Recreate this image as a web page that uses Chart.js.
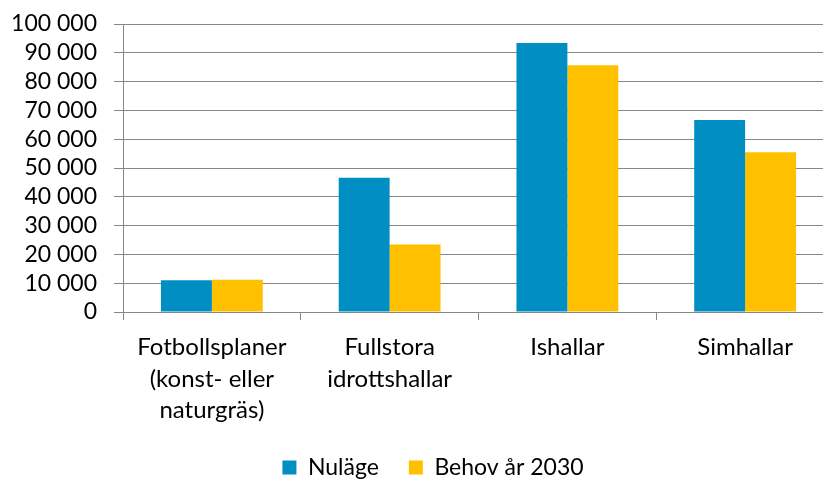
<!DOCTYPE html>
<html><head><meta charset="utf-8">
<script src="https://cdn.jsdelivr.net/npm/chart.js@4"></script>
<style>
html,body{margin:0;padding:0;overflow:hidden;background:#fff;width:823px;height:479px}
#wrap{width:866px;height:490px;position:relative}
</style>
</head><body><div id="wrap"><canvas id="c" width="866" height="490"></canvas></div>
<script>
const categories = [["Fotbollsplaner","(konst- eller","naturgräs)"],["Fullstora","idrottshallar"],"Ishallar","Simhallar"];
const seriesNames = ["Nuläge","Behov år 2030"];
const nulage = [11000, 46600, 93400, 66700];
const behov2030 = [11200, 23400, 85700, 55500];
const yMin = 0, yMax = 100000, yStep = 10000;

const fmt = v => String(v).replace(/\B(?=(\d{3})+(?!\d))/g, ' ');
const FONT = 'Lato, "Open Sans", sans-serif';
const GRID = '#878787';

const legendSpan = {
  id: 'legendSpan',
  afterLayout(chart) {
    const l = chart.legend;
    if (l) { l.left = 0; l.right = chart.width; l.width = chart.width; }
  }
};

new Chart(document.getElementById('c'), {
  type: 'bar',
  data: {
    labels: categories,
    datasets: [
      {label: seriesNames[0], data: nulage, backgroundColor: '#008EC3', borderWidth: 0},
      {label: seriesNames[1], data: behov2030, backgroundColor: '#FFC000', borderWidth: 0}
    ]
  },
  plugins: [legendSpan],
  options: {
    responsive: false,
    devicePixelRatio: 1,
    animation: false,
    layout: {padding: {top: 24, left: 0, right: 32, bottom: 1}},
    datasets: {bar: {barPercentage: 1, categoryPercentage: 0.573}},
    plugins: {
      tooltip: {enabled: false},
      legend: {
        position: 'bottom',
        labels: {font: {family: FONT, size: 23}, color: '#000', boxWidth: 14, boxHeight: 14, padding: 30}
      }
    },
    scales: {
      x: {
        grid: {display: true, drawOnChartArea: false, drawTicks: true, tickLength: 8, color: GRID, lineWidth: 1, offset: true},
        border: {display: true, color: GRID, width: 1},
        ticks: {font: {family: FONT, size: 24, lineHeight: 1.3}, color: '#000', padding: 12, maxRotation: 0, autoSkip: false},
        afterFit: s => { s.height = 114; }
      },
      y: {
        min: yMin, max: yMax,
        grid: {color: GRID, lineWidth: 1, tickLength: 9},
        border: {display: true, color: GRID, width: 1},
        ticks: {stepSize: yStep, autoSkip: false, font: {family: FONT, size: 23}, color: '#000', padding: 17, callback: v => fmt(v)},
        afterFit: s => { s.width = 123; s.paddingTop = 0; s.paddingBottom = 0; }
      }
    }
  }
});
</script>
</body></html>
